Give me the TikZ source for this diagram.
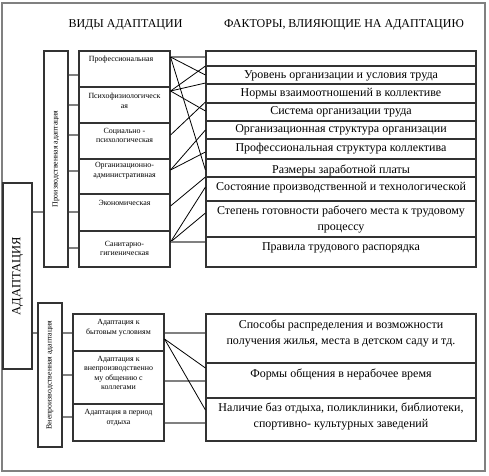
\documentclass[tikz,border=0pt]{standalone}
\usepackage{fontspec}
\setmainfont{Liberation Serif}
\begin{document}
\begin{tikzpicture}[x=1pt,y=-1pt,
  box/.style={draw=black!80, line width=1.1pt, inner sep=0pt},
  stub/.style={draw=black!50, line width=1.6pt},
  link/.style={draw=black, line width=0.8pt},
  ttxt/.style={font=\fontsize{7.9}{9.6}\selectfont, align=center, inner sep=0pt},
  ftxt/.style={font=\fontsize{12}{16}\selectfont, align=center, inner sep=0pt},
  htxt/.style={font=\fontsize{12}{14}\selectfont, inner sep=0pt},
  gtxt/.style={font=\fontsize{7.8}{9}\selectfont, rotate=90, inner sep=0pt}
]
\useasboundingbox (0,0) rectangle (489,475);
\node[draw=black!50, line width=2pt, minimum width=483pt, minimum height=468pt, inner sep=0pt] (frame) at (243.5,237) {};

% headers
\node[htxt] (h1) at (125.5,25) {ВИДЫ АДАПТАЦИИ};
\node[htxt] (h2) at (344,25) {ФАКТОРЫ, ВЛИЯЮЩИЕ НА АДАПТАЦИЮ};

% main box
\node[box, minimum width=29pt, minimum height=186pt] (adapt) at (17.5,276) {};
\node[font=\fontsize{12.5}{14}\selectfont, rotate=90, inner sep=0pt] (adaptt) at (adapt.center) {АДАПТАЦИЯ};

% group boxes
\node[box, minimum width=24pt, minimum height=216pt] (prod) at (56,159) {};
\node[gtxt] (prodt) at (prod.center) {Производственная адаптация};
\node[box, minimum width=24pt, minimum height=144pt] (nprod) at (50,375) {};
\node[gtxt] (nprodt) at (nprod.center) {Внепроизводственная адаптация};

% production type boxes
\node[box, minimum width=91pt, minimum height=36pt] (t1) at (124.5,69) {};
\node[box, minimum width=91pt, minimum height=36pt] (t2) at (124.5,105) {};
\node[box, minimum width=91pt, minimum height=36pt] (t3) at (124.5,141) {};
\node[box, minimum width=91pt, minimum height=35pt] (t4) at (124.5,176.5) {};
\node[box, minimum width=91pt, minimum height=37pt] (t5) at (124.5,212.5) {};
\node[box, minimum width=91pt, minimum height=36pt] (t6) at (124.5,249) {};
\node[ttxt] (t1t) at (121,59.5) {Профессиональная};
\node[ttxt] (t2t) at (124.5,100.5) {Психофизиологическ\\ая};
\node[ttxt] (t3t) at (124.5,135.5) {Социально -\\психологическая};
\node[ttxt] (t4t) at (124.5,171) {Организационно-\\административная};
\node[ttxt] (t5t) at (124.5,203) {Экономическая};
\node[ttxt] (t6t) at (124.5,248.5) {Санитарно-\\гигиеническая};

% non-production type boxes
\node[box, minimum width=91pt, minimum height=37pt] (n1) at (118.5,332.5) {};
\node[box, minimum width=91pt, minimum height=53pt] (n2) at (118.5,377.5) {};
\node[box, minimum width=91pt, minimum height=37pt] (n3) at (118.5,422.5) {};
\node[ttxt] (n1t) at (118.5,328) {Адаптация к\\бытовым условиям};
\node[ttxt] (n2t) at (118.5,373) {Адаптация к\\внепроизводственно\\му общению с\\коллегами};
\node[ttxt] (n3t) at (118.5,417.5) {Адаптация в период\\отдыха};

% production factors
\node[box, minimum width=270pt, minimum height=15pt] (f0) at (341,58.5) {};
\node[box, minimum width=270pt, minimum height=18pt] (f1) at (341,75) {};
\node[box, minimum width=270pt, minimum height=19pt] (f2) at (341,93.5) {};
\node[box, minimum width=270pt, minimum height=18pt] (f3) at (341,112) {};
\node[box, minimum width=270pt, minimum height=18pt] (f4) at (341,130) {};
\node[box, minimum width=270pt, minimum height=20pt] (f5) at (341,149) {};
\node[box, minimum width=270pt, minimum height=18pt] (f6) at (341,168) {};
\node[box, minimum width=270pt, minimum height=24pt] (f7) at (341,189) {};
\node[box, minimum width=270pt, minimum height=36pt] (f8) at (341,219) {};
\node[box, minimum width=270pt, minimum height=30pt] (f9) at (341,252) {};
\node[ftxt] (f1t) at (341,76) {Уровень организации и условия труда};
\node[ftxt] (f2t) at (341,94) {Нормы взаимоотношений в коллективе};
\node[ftxt] (f3t) at (341,112) {Система организации труда};
\node[ftxt] (f4t) at (341,130) {Организационная структура организации};
\node[ftxt] (f5t) at (341,149) {Профессиональная структура коллектива};
\node[ftxt] (f6t) at (341,170.5) {Размеры заработной платы};
\node[ftxt] (f7t) at (341,188) {Состояние производственной и технологической};
\node[ftxt] (f8t) at (341,219.5) {Степень готовности рабочего места к трудовому\\процессу};
\node[ftxt] (f9t) at (341,248) {Правила трудового распорядка};

% non-production factors
\node[box, minimum width=270pt, minimum height=49pt] (g1) at (341,338.5) {};
\node[box, minimum width=270pt, minimum height=35pt] (g2) at (341,380.5) {};
\node[box, minimum width=270pt, minimum height=43pt] (g3) at (341,419.5) {};
\node[ftxt] (g1t) at (341,333.7) {Способы распределения и возможности\\получения жилья, места в детском саду и тд.};
\node[ftxt] (g2t) at (341,374.3) {Формы общения в нерабочее время};
\node[ftxt] (g3t) at (341,416.7) {Наличие баз отдыха, поликлиники, библиотеки,\\спортивно- культурных заведений};

% stubs
\draw[stub] (adapt.east |- 0,212) -- (prod.west |- 0,212);
\draw[stub] (adapt.east |- 0,333) -- (nprod.west |- 0,333);
\draw[stub] (prod.east |- 0,75) -- (t1.west |- 0,75);
\draw[stub] (prod.east |- 0,105) -- (t2.west |- 0,105);
\draw[stub] (prod.east |- 0,135) -- (t3.west |- 0,135);
\draw[stub] (prod.east |- 0,171) -- (t4.west |- 0,171);
\draw[stub] (prod.east |- 0,212) -- (t5.west |- 0,212);
\draw[stub] (prod.east |- 0,248) -- (t6.west |- 0,248);
\draw[stub] (nprod.east |- 0,333) -- (n1.west |- 0,333);
\draw[stub] (nprod.east |- 0,375) -- (n2.west |- 0,375);
\draw[stub] (nprod.east |- 0,417) -- (n3.west |- 0,417);

% production links
\draw[stub] (t1.east |- 0,57) -- (f0.west |- 0,57);
\draw[link] (t1.east |- 0,57) -- (f1.west |- 0,75);
\draw[link] (t1.east |- 0,57) -- (f6.west |- 0,170);
\draw[link] (t2.east |- 0,91) -- (f1.west |- 0,66);
\draw[link] (t2.east |- 0,91) -- (f1.west |- 0,83);
\draw[link] (t2.east |- 0,91) -- (f3.west |- 0,111);
\draw[link] (t3.east |- 0,135) -- (f3.west |- 0,102);
\draw[link] (t4.east |- 0,170) -- (f4.west |- 0,130);
\draw[link] (t4.east |- 0,170) -- (f5.west |- 0,152);
\draw[link] (t5.east |- 0,206) -- (f6.west |- 0,177);
\draw[link] (t6.east |- 0,242) -- (f7.west |- 0,187);
\draw[link] (t6.east |- 0,242) -- (f8.west |- 0,213);
\draw[stub] (t6.east |- 0,242) -- (f9.west |- 0,242);

% non-production links
\draw[stub] (n1.east |- 0,333) -- (g1.west |- 0,333);
\draw[stub] (n2.east |- 0,381) -- (g2.west |- 0,381);
\draw[stub] (n3.east |- 0,423) -- (g3.west |- 0,423);
\draw[link] (n1.east |- 0,339) -- (g2.west |- 0,368);
\draw[link] (n1.east |- 0,339) -- (g3.west |- 0,410);
\end{tikzpicture}
\end{document}
